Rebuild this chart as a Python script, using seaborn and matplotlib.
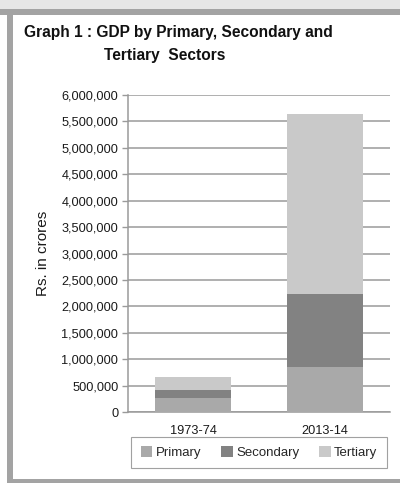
import matplotlib
matplotlib.use("Agg")
import matplotlib.pyplot as plt
from matplotlib.patches import Rectangle
from matplotlib.ticker import FuncFormatter
import seaborn as sns
import pandas as pd
import numpy as np

years = ["1973-74", "2013-14"]
primary = [263000, 860000]
secondary = [160000, 1365000]
tertiary = [230000, 3415000]
sectors = ["Primary", "Secondary", "Tertiary"]
colors = ["#a9a9a9", "#828282", "#c9c9c9"]

sns.set_theme(style="white")
plt.rcParams['font.family'] = ['Liberation Sans', 'DejaVu Sans']

fig = plt.figure(figsize=(4.0, 4.86), dpi=100)
fig.patch.set_facecolor("white")

# frame decorations
fig.add_artist(Rectangle((0, 1 - 9/486), 1, 9/486, transform=fig.transFigure,
                         facecolor="#e6e6e6", edgecolor="none", zorder=0))
fig.add_artist(Rectangle((0, 1 - 15/486), 1, 6/486, transform=fig.transFigure,
                         facecolor="#a3a3a3", edgecolor="none", zorder=0))
fig.add_artist(Rectangle((7/400, 3/486), 6/400, 1 - 18/486, transform=fig.transFigure,
                         facecolor="#a3a3a3", edgecolor="none", zorder=0))
fig.add_artist(Rectangle((7/400, 3/486), 1, 4/486, transform=fig.transFigure,
                         facecolor="#a3a3a3", edgecolor="none", zorder=0))

ax = fig.add_axes([128/400, 1 - 412/486, 262/400, (412 - 95)/486])

df = pd.DataFrame({"Year": years, "Primary": primary,
                   "Secondary": secondary, "Tertiary": tertiary})
df["c1"] = df["Primary"]
df["c2"] = df["Primary"] + df["Secondary"]
df["c3"] = df["c2"] + df["Tertiary"]

width = 76/132
for col, color, lab in [("c3", colors[2], "Tertiary"),
                        ("c2", colors[1], "Secondary"),
                        ("c1", colors[0], "Primary")]:
    sns.barplot(data=df, x="Year", y=col, color=color, width=width,
                saturation=1, ax=ax, zorder=3, label=lab, linewidth=0,
                edgecolor="none")

ax.set_xlim(-65/132, 1 + 65/132)
ax.set_ylim(0, 6000000)
ax.set_yticks(np.arange(0, 6000001, 500000))
ax.yaxis.set_major_formatter(FuncFormatter(lambda v, p: f"{int(v):,}"))
ax.grid(axis="y", color="#9a9a9a", linewidth=1.1, zorder=0)
ax.set_axisbelow(True)
for s in ["top", "right"]:
    ax.spines[s].set_visible(False)
for s in ["left", "bottom"]:
    ax.spines[s].set_color("#9a9a9a")
    ax.spines[s].set_linewidth(1.1)
ax.tick_params(axis="y", which="major", left=True, length=4, width=1,
               color="#9a9a9a", labelsize=9.2, labelcolor="#1a1a1a", pad=3)
ax.tick_params(axis="x", bottom=False, labelsize=9.2, labelcolor="#1a1a1a", pad=3)
ax.set_xlabel("")
ax.set_ylabel("Rs. in crores", fontsize=11, color="#1a1a1a", labelpad=8)

handles, labels = ax.get_legend_handles_labels()
order = [labels.index(s) for s in sectors]
leg = ax.legend([handles[i] for i in order], [labels[i] for i in order],
                loc="upper center", bbox_to_anchor=(0.5, -0.078), ncol=3,
                frameon=True, fancybox=False, fontsize=9.5,
                handlelength=0.9, handleheight=0.9, handletextpad=0.25,
                columnspacing=1.5, borderpad=0.7, borderaxespad=0)
leg.get_frame().set_edgecolor("#8a8a8a")
leg.get_frame().set_linewidth(0.8)

fig.text(24/400, 1 - 37/486, "Graph 1 : GDP by Primary, Secondary and",
         fontsize=11.2, fontweight="bold", color="#111111")
fig.text(104/400, 1 - 60/486, "Tertiary  Sectors",
         fontsize=11.2, fontweight="bold", color="#111111")

fig.savefig("out.png", dpi=100)
